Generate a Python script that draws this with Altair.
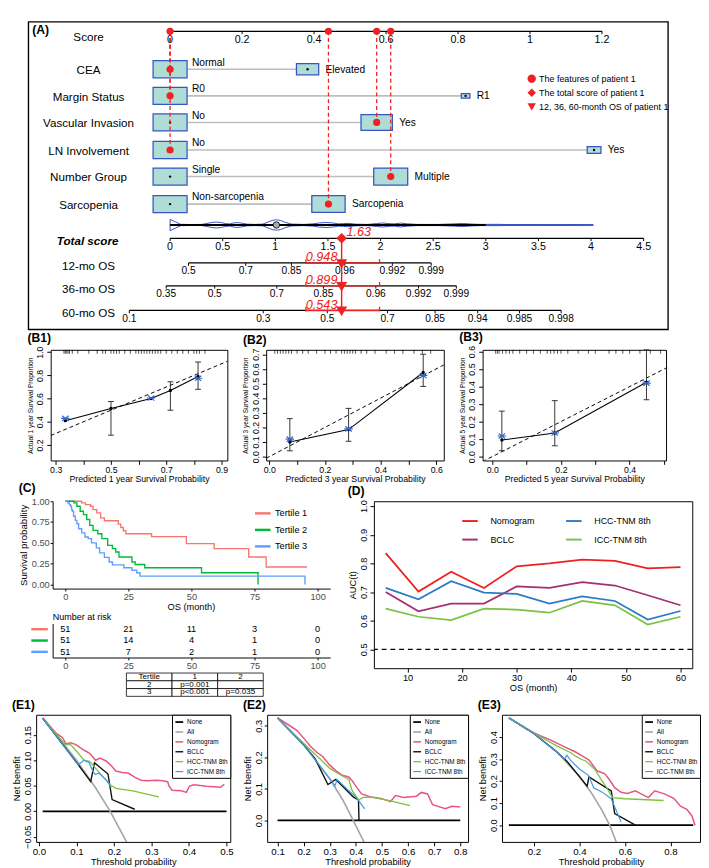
import json
import altair as alt
import pandas as pd

FONT = "Liberation Sans"
RED = "#EE2222"
BOX_FILL = "#AFDDD6"
BOX_EDGE = "#3556C6"
DENS_BLUE = "#3450C4"

# ======================= (A) nomogram data =======================
SCORE_TICKS = [0, 0.2, 0.4, 0.6, 0.8, 1, 1.2]
TOTAL_TICKS = [0, 0.5, 1, 1.5, 2, 2.5, 3, 3.5, 4, 4.5]
TOTAL_AXIS_RATIO = 0.2924  # one total point drawn relative to one score point

FEATURES = ["CEA", "Margin Status", "Vascular Invasion", "LN Involvement", "Number Group", "Sarcopenia"]
LEVEL_NAMES = [["Normal", "Elevated"], ["R0", "R1"], ["No", "Yes"], ["No", "Yes"],
               ["Single", "Multiple"], ["Non-sarcopenia", "Sarcopenia"]]
LEVEL_POINTS = [[0, 0.382], [0, 0.821], [0, 0.574], [0, 1.178], [0, 0.613], [0, 0.440]]
LEVEL_FREQ = [[0.70, 0.30], [0.94, 0.06], [0.54, 0.46], [0.86, 0.14], [0.50, 0.50], [0.51, 0.49]]
PATIENT_LEVEL = [0, 0, 1, 0, 1, 1]
PATIENT_TOTAL = 1.63
PATIENT_TOTAL_RANGE = [1.29, 1.99]

OS_NAMES = ["12-mo OS", "36-mo OS", "60-mo OS"]
OS_TICK_LABELS = [["0.5", "0.7", "0.85", "0.96", "0.992", "0.999"],
                  ["0.35", "0.5", "0.7", "0.85", "0.96", "0.992", "0.999"],
                  ["0.1", "0.3", "0.5", "0.7", "0.85", "0.94", "0.985", "0.998"]]
OS_TICK_TOTALS = [[0.175, 0.719, 1.153, 1.660, 2.112, 2.481],
                  [-0.037, 0.424, 1.014, 1.457, 1.955, 2.361, 2.720],
                  [-0.387, 0.885, 1.494, 2.066, 2.518, 2.923, 3.320, 3.716]]
OS_PATIENT = ["0.948", "0.899", "0.543"]

DENS_TOTAL = [0.00, 0.05, 0.10, 0.20, 0.30, 0.35, 0.40, 0.44, 0.48, 0.53, 0.57, 0.60, 0.64, 0.68, 0.73,
              0.80, 0.88, 0.93, 0.97, 1.01, 1.05, 1.09, 1.15, 1.27, 1.36, 1.42, 1.48, 1.54, 1.60, 1.65,
              1.70, 1.76, 1.88, 1.96, 2.02, 2.08, 2.13, 2.19, 2.25, 2.35, 2.55, 2.70, 2.78, 2.86, 2.95,
              3.10, 3.20, 3.50, 3.80, 4.02]
DENS_HALF = [6.0, 3.3, 0.7, 0.5, 0.6, 1.6, 2.7, 3.1, 2.7, 1.4, 1.1, 2.1, 2.5, 2.0, 0.9,
             0.6, 0.9, 3.0, 4.8, 5.5, 4.8, 3.0, 1.0, 0.6, 1.2, 2.2, 2.6, 2.2, 1.2, 1.5,
             1.7, 0.9, 0.6, 1.5, 2.1, 1.4, 1.2, 2.0, 1.3, 0.6, 0.6, 1.2, 1.6, 1.0, 0.6,
             0.7, 0.5, 0.4, 0.4, 0.3]
DENS_MEDIAN = 1.01
DENS_DARK_END = 3.0

LEGEND_A = ["The features of patient 1", "The total score of patient 1", "12, 36, 60-month OS of patient 1"]

# ======================= (B) calibration data =======================
B1_PRED = [0.335, 0.500, 0.645, 0.715, 0.815]
B1_OBS = [0.410, 0.515, 0.600, 0.670, 0.790]
B1_ERR_X = [0.500, 0.715, 0.815]
B1_ERR_LO = [0.285, 0.500, 0.680]
B1_ERR_HI = [0.575, 0.745, 0.915]
B1_BC_X = [0.335, 0.645, 0.815]
B1_BC_Y = [0.430, 0.605, 0.775]
B1_RUG = [0.33, 0.335, 0.34, 0.345, 0.35, 0.36, 0.38, 0.42, 0.45, 0.47, 0.48, 0.50, 0.51, 0.52, 0.53,
          0.55, 0.57, 0.59, 0.60, 0.61, 0.62, 0.63, 0.64, 0.65, 0.66, 0.67, 0.68, 0.70, 0.72, 0.74,
          0.76, 0.78, 0.80, 0.81, 0.82, 0.84]

B2_PRED = [0.074, 0.285, 0.553]
B2_OBS = [0.100, 0.185, 0.575]
B2_ERR_LO = [0.040, 0.105, 0.480]
B2_ERR_HI = [0.260, 0.330, 0.700]
B2_BC_Y = [0.120, 0.190, 0.555]
B2_RUG = [0.02, 0.03, 0.04, 0.05, 0.06, 0.07, 0.08, 0.10, 0.12, 0.14, 0.17, 0.20, 0.22, 0.24, 0.26,
          0.27, 0.28, 0.29, 0.30, 0.31, 0.33, 0.35, 0.38, 0.42, 0.45, 0.48, 0.52, 0.55, 0.58]

B3_PRED = [0.028, 0.182, 0.449]
B3_OBS = [0.095, 0.135, 0.425]
B3_ERR_LO = [0.034, 0.062, 0.325]
B3_ERR_HI = [0.260, 0.320, 0.610]
B3_BC_Y = [0.118, 0.135, 0.420]
B3_RUG = [0.01, 0.015, 0.02, 0.03, 0.04, 0.05, 0.06, 0.08, 0.10, 0.12, 0.14, 0.16, 0.17, 0.18, 0.19,
          0.20, 0.22, 0.25, 0.28, 0.30, 0.34, 0.36, 0.38, 0.40, 0.43, 0.46, 0.49]

# ======================= (C) Kaplan-Meier data =======================
TERTILES = ["Tertile 1", "Tertile 2", "Tertile 3"]
TERT_COLORS = ["#F8766D", "#00BA38", "#619CFF"]
KM_TIME_T1 = [0, 6.5, 8, 10, 11, 12.5, 14, 15.5, 21, 22, 23, 24, 34.2, 48, 59, 72.7, 79.6, 95.8]
KM_SURV_T1 = [1, 0.98, 0.96, 0.94, 0.90, 0.86, 0.80, 0.765, 0.725, 0.685, 0.645, 0.61, 0.575, 0.49, 0.43,
              0.33, 0.21, 0.21]
KM_TIME_T2 = [0, 3.4, 4.6, 5.9, 7.2, 8.5, 9.7, 11.0, 12.9, 14.5, 16.8, 18.7, 20.0, 21.3, 26.4, 27.7, 31.5,
              54, 76.4]
KM_SURV_T2 = [1, 0.98, 0.94, 0.88, 0.84, 0.78, 0.71, 0.65, 0.61, 0.55, 0.47, 0.43, 0.39, 0.33, 0.27, 0.24,
              0.20, 0.14, 0.0]
KM_TIME_T3 = [0, 1.0, 1.6, 2.1, 2.5, 2.8, 3.3, 4.0, 4.6, 5.3, 6.5, 7.8, 9.1, 10.4, 12.3, 13.6, 15.5, 17.4,
              18.7, 23.2, 26.4, 28.3, 29.6, 95]
KM_SURV_T3 = [1, 0.98, 0.96, 0.94, 0.90, 0.88, 0.82, 0.77, 0.73, 0.67, 0.62, 0.57, 0.55, 0.50, 0.44, 0.38,
              0.325, 0.27, 0.235, 0.20, 0.17, 0.14, 0.10, 0.0]
RISK_TIMES = [0, 25, 50, 75, 100]
RISK_T1 = [51, 21, 11, 3, 0]
RISK_T2 = [51, 14, 4, 1, 0]
RISK_T3 = [51, 7, 2, 1, 0]
PTABLE = [["Tertile", "1", "2"], ["2", "p=0.001", ""], ["3", "p<0.001", "p=0.035"]]

# ======================= (D) time-dependent AUC =======================
D_MODELS = ["Nomogram", "BCLC", "HCC-TNM 8th", "ICC-TNM 8th"]
D_COLORS = ["#F02020", "#A2316E", "#2B7BC4", "#7DC142"]
D_TIME = [6, 12, 18, 24, 30, 36, 42, 48, 54, 60]
D_NOMO = [0.836, 0.702, 0.771, 0.714, 0.790, 0.800, 0.813, 0.809, 0.783, 0.787]
D_BCLC = [0.700, 0.633, 0.660, 0.660, 0.720, 0.715, 0.735, 0.723, 0.689, 0.654]
D_HCC = [0.715, 0.675, 0.738, 0.698, 0.694, 0.660, 0.685, 0.669, 0.604, 0.634]
D_ICC = [0.642, 0.614, 0.602, 0.642, 0.639, 0.628, 0.669, 0.654, 0.587, 0.614]

# ======================= (E) decision curves =======================
E_MODELS = ["None", "All", "Nomogram", "BCLC", "HCC-TNM 8th", "ICC-TNM 8th"]
E_COLORS = ["#000000", "#A6A6A6", "#E8567F", "#111111", "#7DC242", "#3E9BE0"]

E1 = {
    "None": ([0.01, 0.50], [0, 0]),
    "All": ([0.01, 0.05, 0.10, 0.15, 0.19, 0.235], [0.182, 0.147, 0.100, 0.047, 0.0, -0.062]),
    "Nomogram": ([0.01, 0.047, 0.055, 0.063, 0.072, 0.084, 0.097, 0.109, 0.122, 0.134, 0.143, 0.151, 0.163,
                  0.18, 0.193, 0.205, 0.222, 0.238, 0.255, 0.272, 0.288, 0.313, 0.33, 0.343, 0.347, 0.355,
                  0.38, 0.393, 0.401, 0.413, 0.447, 0.484, 0.494],
                 [0.183, 0.152, 0.148, 0.144, 0.132, 0.134, 0.131, 0.125, 0.119, 0.114, 0.107, 0.100, 0.104,
                  0.098, 0.089, 0.079, 0.076, 0.075, 0.067, 0.061, 0.060, 0.061, 0.060, 0.058, 0.049, 0.041,
                  0.040, 0.037, 0.049, 0.052, 0.049, 0.047, 0.053]),
    "BCLC": ([0.01, 0.105, 0.138, 0.148, 0.184, 0.195, 0.255], [0.182, 0.091, 0.058, 0.095, 0.073, 0.023, 0.004]),
    "HCC-TNM 8th": ([0.01, 0.07, 0.085, 0.10, 0.12, 0.135, 0.15, 0.17, 0.19, 0.205, 0.25, 0.32],
                    [0.182, 0.131, 0.130, 0.118, 0.100, 0.098, 0.085, 0.068, 0.052, 0.045, 0.040, 0.028]),
    "ICC-TNM 8th": ([0.01, 0.105, 0.12, 0.134, 0.143, 0.15, 0.16, 0.18, 0.193],
                    [0.182, 0.091, 0.100, 0.095, 0.079, 0.072, 0.075, 0.061, 0.046]),
}
E2 = {
    "None": ([0.1, 0.8], [0, 0]),
    "All": ([0.1, 0.2, 0.3, 0.35, 0.39, 0.432], [0.325, 0.240, 0.132, 0.065, 0.0, -0.070]),
    "Nomogram": ([0.1, 0.138, 0.175, 0.2, 0.225, 0.249, 0.274, 0.298, 0.323, 0.348, 0.373, 0.385, 0.404,
                  0.422, 0.459, 0.496, 0.533, 0.552, 0.583, 0.632, 0.651, 0.675, 0.694, 0.743, 0.768, 0.8],
                 [0.325, 0.305, 0.285, 0.261, 0.236, 0.217, 0.202, 0.177, 0.158, 0.143, 0.138, 0.127, 0.104,
                  0.084, 0.074, 0.070, 0.060, 0.079, 0.073, 0.077, 0.089, 0.084, 0.050, 0.037, 0.045, 0.043]),
    "BCLC": ([0.1, 0.2, 0.243, 0.293, 0.323, 0.391, 0.41, 0.412], [0.325, 0.240, 0.197, 0.114, 0.130, 0.074, 0.065, 0.0]),
    "HCC-TNM 8th": ([0.1, 0.2, 0.25, 0.3, 0.34, 0.373, 0.385, 0.41, 0.429, 0.459, 0.533, 0.607],
                    [0.325, 0.245, 0.205, 0.165, 0.145, 0.130, 0.096, 0.065, 0.073, 0.074, 0.062, 0.047]),
    "ICC-TNM 8th": ([0.1, 0.2, 0.3, 0.32, 0.328, 0.37, 0.40, 0.434], [0.325, 0.240, 0.132, 0.110, 0.130, 0.097, 0.075, 0.037]),
}
E3 = {
    "None": ([0.09, 0.9], [0, 0]),
    "All": ([0.09, 0.2, 0.3, 0.4, 0.45, 0.5, 0.533, 0.562], [0.487, 0.416, 0.333, 0.222, 0.151, 0.066, 0.0, -0.076]),
    "Nomogram": ([0.09, 0.195, 0.23, 0.272, 0.328, 0.385, 0.442, 0.477, 0.512, 0.533, 0.555, 0.583, 0.611,
                  0.646, 0.667, 0.703, 0.731, 0.773, 0.816, 0.844, 0.872, 0.894, 0.908],
                 [0.487, 0.422, 0.405, 0.387, 0.359, 0.331, 0.296, 0.247, 0.233, 0.205, 0.170, 0.149, 0.144,
                  0.156, 0.144, 0.125, 0.156, 0.142, 0.121, 0.086, 0.072, 0.043, 0.0]),
    "BCLC": ([0.09, 0.2, 0.3, 0.343, 0.434, 0.442, 0.54, 0.555, 0.646], [0.487, 0.416, 0.333, 0.293, 0.177, 0.219, 0.156, 0.053, 0.0]),
    "HCC-TNM 8th": ([0.09, 0.2, 0.3, 0.36, 0.385, 0.41, 0.43, 0.47, 0.5, 0.52, 0.545, 0.6, 0.77],
                    [0.487, 0.418, 0.360, 0.330, 0.312, 0.298, 0.290, 0.250, 0.200, 0.170, 0.125, 0.120, 0.112]),
    "ICC-TNM 8th": ([0.09, 0.2, 0.3, 0.335, 0.345, 0.36, 0.40, 0.44, 0.463, 0.50, 0.54, 0.583],
                    [0.487, 0.416, 0.333, 0.300, 0.318, 0.295, 0.255, 0.226, 0.170, 0.150, 0.120, 0.015]),
}

# ======================= layout =======================
A_W, A_H = 659, 317
A_XDOM = [-0.3937, 1.3834]
A_YDOM = [1, 325]
ROW_SCORE = 11
ROW_FEAT = [51, 79, 107, 136, 164, 193]
ROW_DENS = 215
ROW_TOTAL = 229
ROW_OS = [255, 279, 305]
BOX_HALF_W = 0.0472
BOX_HALF_H = 9
TRANSP = alt.ViewBackground(stroke="transparent")
IND = dict(color="independent", shape="independent", strokeWidth="independent")


def H(*charts, spacing=0):
    return alt.hconcat(*charts, spacing=spacing).resolve_scale(**IND).resolve_legend(**IND)


def V(*charts, spacing=0):
    return alt.vconcat(*charts, spacing=spacing).resolve_scale(**IND).resolve_legend(**IND)


def spacer(w, h):
    return alt.Chart(pd.DataFrame({"v": [0]})).mark_rect(opacity=0).encode(
        x=alt.value(0), x2=alt.value(w), y=alt.value(0), y2=alt.value(h)
    ).properties(width=w, height=h, view=TRANSP)


def g(v):
    return "%g" % v


# ----------------------- (A) -----------------------
R = TOTAL_AXIS_RATIO
xsA = alt.Scale(domain=A_XDOM, nice=False, zero=False)
ysA = alt.Scale(domain=A_YDOM, reverse=True, nice=False, zero=False)


def XA(f="x"):
    return alt.X(f + ":Q", scale=xsA, axis=None)


def YA(f="y"):
    return alt.Y(f + ":Q", scale=ysA, axis=None)


ax_lines, ax_ticks, ax_labels = [], [], []


def add_axis(pos, labs, row, size):
    ax_lines.append(dict(x=min(pos), x2=max(pos), y=row))
    for p, l in zip(pos, labs):
        ax_ticks.append(dict(x=p, y=row, y2=row + 3))
        ax_labels.append(dict(x=p, y=row + 9, t=l, s=size))


add_axis(SCORE_TICKS, [g(v) for v in SCORE_TICKS], ROW_SCORE, 11)
add_axis([t * R for t in TOTAL_TICKS], [g(v) for v in TOTAL_TICKS], ROW_TOTAL, 11)
for i in range(3):
    add_axis([t * R for t in OS_TICK_TOTALS[i]], OS_TICK_LABELS[i], ROW_OS[i], 10.5)

conns, boxes, lvl0, lvl1 = [], [], [], []
for k in range(len(FEATURES)):
    row = ROW_FEAT[k]
    fmax = max(LEVEL_FREQ[k])
    conns.append(dict(x=LEVEL_POINTS[k][0], x2=LEVEL_POINTS[k][1], y=row))
    for j in range(2):
        rel = (LEVEL_FREQ[k][j] / fmax) ** 0.5
        p = LEVEL_POINTS[k][j]
        hw, hh = BOX_HALF_W * rel, BOX_HALF_H * rel
        boxes.append(dict(x=p - hw, x2=p + hw, y=row - hh, y2=row + hh, cx=p, cy=row))
        if j == 0:
            lvl0.append(dict(x=p + hw + 0.0135, y=row - 7, t=LEVEL_NAMES[k][j]))
        else:
            lvl1.append(dict(x=p + hw + 0.019, y=row + 0.5, t=LEVEL_NAMES[k][j]))

pat_pts = [LEVEL_POINTS[k][PATIENT_LEVEL[k]] for k in range(len(FEATURES))]
dash = [dict(x=p, y=ROW_SCORE, y2=ROW_FEAT[k]) for k, p in enumerate(pat_pts)]
dots = [dict(x=p, y=ROW_FEAT[k], kind=LEGEND_A[0]) for k, p in enumerate(pat_pts)]
dots += [dict(x=p, y=ROW_SCORE, kind=LEGEND_A[0]) for p in sorted(set(pat_pts))]
diam = [dict(x=PATIENT_TOTAL * R, y=ROW_TOTAL, kind=LEGEND_A[1])]
tris = [dict(x=PATIENT_TOTAL * R, y=r + 1, kind=LEGEND_A[2]) for r in ROW_OS]
ci = [dict(x=PATIENT_TOTAL_RANGE[0] * R, x2=PATIENT_TOTAL_RANGE[1] * R, y=r) for r in ROW_OS]
ci_ticks = [dict(x=v * R, y=r - 4, y2=r + 1) for r in ROW_OS for v in PATIENT_TOTAL_RANGE]
os_txt = [dict(x=PATIENT_TOTAL_RANGE[0] * R, y=r - 6, t=t) for r, t in zip(ROW_OS, OS_PATIENT)]

path = []
n = len(DENS_TOTAL)
for i, (t, h) in enumerate(zip(DENS_TOTAL, DENS_HALF)):
    path.append(dict(x=t * R, y=ROW_DENS - h, o=i))
for i, (t, h) in enumerate(zip(DENS_TOTAL[::-1], DENS_HALF[::-1])):
    path.append(dict(x=t * R, y=ROW_DENS + h, o=n + i))
path.append(dict(x=DENS_TOTAL[0] * R, y=ROW_DENS - DENS_HALF[0], o=2 * n))

var_labels = [dict(y=ROW_SCORE + 6, t="Score")] + \
    [dict(y=r + 1, t=f) for r, f in zip(ROW_FEAT, FEATURES)] + \
    [dict(y=r + 3, t=nm) for r, nm in zip(ROW_OS, OS_NAMES)]

SHAPE_A = alt.Shape("kind:N", scale=alt.Scale(domain=LEGEND_A, range=["circle", "diamond", "triangle-down"]),
                    legend=alt.Legend(title=None, orient="none", legendX=514, legendY=54, symbolSize=75,
                                      symbolFillColor=RED, symbolStrokeColor=RED, symbolStrokeWidth=0,
                                      labelFontSize=9.2, labelOffset=3, rowPadding=4.5, labelColor="black"))


def C(rows):
    return alt.Chart(pd.DataFrame(rows))


A = alt.layer(
    C(ax_lines).mark_rule(color="black", strokeWidth=1.3).encode(x=XA(), x2="x2:Q", y=YA()),
    C(ax_ticks).mark_rule(color="black", strokeWidth=1).encode(x=XA(), y=YA(), y2="y2:Q"),
    C(ax_labels).mark_text(baseline="middle", color="black").encode(
        x=XA(), y=YA(), text="t:N", size=alt.Size("s:Q", scale=None)),
    C(conns).mark_rule(color="#BEBEBE", strokeWidth=1.6).encode(x=XA(), x2="x2:Q", y=YA()),
    C(boxes).mark_rect(fill=BOX_FILL, stroke=BOX_EDGE, strokeWidth=1.3).encode(
        x=XA(), x2="x2:Q", y=YA(), y2="y2:Q"),
    C(boxes).mark_point(filled=True, color="black", size=6, opacity=1).encode(x=XA("cx"), y=YA("cy")),
    C(lvl0).mark_text(align="left", baseline="middle", fontSize=10.5, color="black").encode(
        x=XA(), y=YA(), text="t:N"),
    C(lvl1).mark_text(align="left", baseline="middle", fontSize=10.5, color="black").encode(
        x=XA(), y=YA(), text="t:N"),
    C(var_labels).mark_text(align="center", baseline="middle", fontSize=12, color="black").encode(
        x=alt.value(62), y=YA(), text="t:N"),
    C([dict(y=ROW_TOTAL + 3, t="Total score")]).mark_text(
        align="center", baseline="middle", fontSize=12, fontWeight="bold", fontStyle="italic", color="black").encode(
        x=alt.value(61), y=YA(), text="t:N"),
    C(path).mark_line(color=DENS_BLUE, strokeWidth=1).encode(x=XA(), y=YA(), order="o:Q"),
    C([dict(x=DENS_TOTAL[0] * R, x2=DENS_DARK_END * R, y=ROW_DENS)]).mark_rule(
        color="black", strokeWidth=2).encode(x=XA(), x2="x2:Q", y=YA()),
    C([dict(x=DENS_DARK_END * R, x2=DENS_TOTAL[-1] * R, y=ROW_DENS)]).mark_rule(
        color=DENS_BLUE, strokeWidth=1.4).encode(x=XA(), x2="x2:Q", y=YA()),
    C([dict(x=DENS_MEDIAN * R, y=ROW_DENS)]).mark_point(
        filled=True, fill="#AAAAAA", stroke="black", strokeWidth=0.8, size=45, opacity=1).encode(x=XA(), y=YA()),
    C(dash).mark_rule(color=RED, strokeWidth=1.3, strokeDash=[4, 3]).encode(x=XA(), y=YA(), y2="y2:Q"),
    C([dict(x=PATIENT_TOTAL * R, y=ROW_TOTAL, y2=ROW_OS[-1] + 2)]).mark_rule(
        color=RED, strokeWidth=1.5).encode(x=XA(), y=YA(), y2="y2:Q"),
    C(ci).mark_rule(color=RED, strokeWidth=1.5).encode(x=XA(), x2="x2:Q", y=YA()),
    C(ci_ticks).mark_rule(color=RED, strokeWidth=1.3).encode(x=XA(), y=YA(), y2="y2:Q"),
    C(dots).mark_point(filled=True, color=RED, size=55, opacity=1).encode(x=XA(), y=YA(), shape=SHAPE_A),
    C(diam).mark_point(filled=True, color=RED, size=120, opacity=1).encode(x=XA(), y=YA(), shape=SHAPE_A),
    C(tris).mark_point(filled=True, color=RED, size=130, opacity=1).encode(x=XA(), y=YA(), shape=SHAPE_A),
    C([dict(x=PATIENT_TOTAL * R, y=ROW_TOTAL - 6, t=g(PATIENT_TOTAL))]).mark_text(
        align="left", baseline="middle", dx=5, fontSize=13, fontStyle="italic", color=RED).encode(
        x=XA(), y=YA(), text="t:N"),
    C(os_txt).mark_text(align="left", baseline="middle", fontSize=13, fontStyle="italic", color=RED).encode(
        x=XA(), y=YA(), text="t:N"),
    C([dict(t="(A)")]).mark_text(align="left", baseline="middle", fontSize=12.5, fontWeight="bold",
                                 color="black").encode(x=alt.value(4), y=alt.value(9), text="t:N"),
).properties(width=A_W, height=A_H, view=alt.ViewBackground(stroke="black", strokeWidth=1.4))

# ----------------------- (B) -----------------------
XSHAPE = "M-1,-0.8L1,0.8M-1,0.8L1,-0.8M-1.3,0L1.3,0"


def calib_chart(tag, year, xdom, ydom, xticks, xlabs, yticks, w, h, pred, obs, ebx, elo, ehi, bcx, bcy, rug):
    xs = alt.Scale(domain=xdom, nice=False, zero=False)
    ys = alt.Scale(domain=ydom, nice=False, zero=False)
    expr = "indexof(%s, round(datum.value*10)/10) >= 0 ? format(datum.value, '.1f') : ''" % json.dumps(xlabs)
    xax = alt.Axis(values=xticks, labelExpr=expr, title="Predicted  %s year Survival Probability" % year,
                   domain=False, tickSize=4, labelFontSize=9, titleFontSize=9, labelPadding=1, titlePadding=1)
    yax = alt.Axis(values=yticks, format=".1f", title="Actual %s year Survival Proportion" % year,
                   domain=False, tickSize=4, labelAngle=-90, labelAlign="center", labelBaseline="bottom",
                   labelFontSize=9, titleFontSize=6.8, labelPadding=2, titlePadding=3)
    X = alt.X("x:Q", scale=xs, axis=xax)
    Y = alt.Y("y:Q", scale=ys, axis=yax)
    obs_df = pd.DataFrame({"x": pred, "y": obs})
    layers = [
        alt.Chart(pd.DataFrame({"x": rug})).mark_rule(color="black", strokeWidth=0.7).encode(
            x=X, y=alt.value(0), y2=alt.value(4)),
        alt.Chart(pd.DataFrame({"x": xdom, "y": xdom})).mark_line(
            color="black", strokeDash=[4, 3], strokeWidth=1, clip=True).encode(x=X, y=Y),
        alt.Chart(obs_df).mark_line(color="black", strokeWidth=1.1).encode(x=X, y=Y),
        alt.Chart(pd.DataFrame({"x": ebx, "y": elo, "y2": ehi})).mark_rule(color="#333333", strokeWidth=1).encode(
            x=X, y=Y, y2="y2:Q"),
        alt.Chart(pd.DataFrame({"x": ebx + ebx, "y": elo + ehi})).mark_point(
            shape="stroke", size=36, color="#333333", strokeWidth=1, opacity=1).encode(x=X, y=Y),
        alt.Chart(obs_df).mark_point(filled=True, color="black", size=12, opacity=1).encode(x=X, y=Y),
        alt.Chart(pd.DataFrame({"x": bcx, "y": bcy})).mark_point(
            shape=XSHAPE, size=45, color="#3366CC", strokeWidth=1.2, opacity=1).encode(x=X, y=Y),
    ]
    return alt.layer(*layers).properties(
        width=w, height=h,
        title=alt.TitleParams("(%s)" % tag, anchor="start", fontSize=12.5, fontWeight="bold", offset=2))


B1c = calib_chart("B1", 1, [0.282, 0.921], [0.067, 1.02], [0.3, 0.4, 0.5, 0.6, 0.7, 0.8, 0.9],
                  [0.3, 0.5, 0.7, 0.9], [0.2, 0.4, 0.6, 0.8, 1.0], 182, 114,
                  B1_PRED, B1_OBS, B1_ERR_X, B1_ERR_LO, B1_ERR_HI, B1_BC_X, B1_BC_Y, B1_RUG)
B2c = calib_chart("B2", 3, [-0.011, 0.627], [-0.026, 0.73], [0.0, 0.1, 0.2, 0.3, 0.4, 0.5, 0.6],
                  [0.0, 0.2, 0.4, 0.6], [0.0, 0.1, 0.2, 0.3, 0.4, 0.5, 0.6, 0.7], 183, 114,
                  B2_PRED, B2_OBS, B2_PRED, B2_ERR_LO, B2_ERR_HI, B2_PRED, B2_BC_Y, B2_RUG)
B3c = calib_chart("B3", 5, [-0.028, 0.506], [-0.022, 0.61], [0.0, 0.1, 0.2, 0.3, 0.4, 0.5],
                  [0.0, 0.2, 0.4], [0.0, 0.1, 0.2, 0.3, 0.4, 0.5, 0.6], 189, 114,
                  B3_PRED, B3_OBS, B3_PRED, B3_ERR_LO, B3_ERR_HI, B3_PRED, B3_BC_Y, B3_RUG)

# ----------------------- (C) -----------------------
km_rows = []
for name, ts, ss in zip(TERTILES, [KM_TIME_T1, KM_TIME_T2, KM_TIME_T3], [KM_SURV_T1, KM_SURV_T2, KM_SURV_T3]):
    for i, (t, s) in enumerate(zip(ts, ss)):
        km_rows.append(dict(g=name, t=t, s=s, i=i))
xsC = alt.Scale(domain=[-5, 105], nice=False, zero=False)
ysC = alt.Scale(domain=[-0.05, 1.0], nice=False, zero=False)
tcol = alt.Scale(domain=TERTILES, range=TERT_COLORS)
C_W = 286

Cc = alt.Chart(pd.DataFrame(km_rows)).mark_line(interpolate="step-after", strokeWidth=1.4).encode(
    x=alt.X("t:Q", scale=xsC, axis=alt.Axis(values=RISK_TIMES, title=None, tickSize=2.5, labelFontSize=9.5,
                                           labelPadding=1, labelColor="#4D4D4D")),
    y=alt.Y("s:Q", scale=ysC, axis=alt.Axis(values=[0, 0.25, 0.5, 0.75, 1.0], format=".2f",
                                           title="Survival probability", tickSize=2.5, labelFontSize=9.5,
                                           titleFontSize=10, labelPadding=1, titlePadding=3,
                                           labelColor="#4D4D4D")),
    color=alt.Color("g:N", scale=tcol, legend=alt.Legend(
        title=None, orient="none", legendX=207, legendY=3, symbolType="stroke", symbolSize=256,
        symbolStrokeWidth=2.5, labelFontSize=9.5, labelOffset=3, rowPadding=2, labelColor="black")),
    order="i:Q",
).properties(width=C_W, height=90, view=TRANSP,
             title=alt.TitleParams("(C)", anchor="start", fontSize=12.5, fontWeight="bold", offset=2))

risk_rows = []
for name, vals in zip(TERTILES, [RISK_T1, RISK_T2, RISK_T3]):
    for t, v in zip(RISK_TIMES, vals):
        risk_rows.append(dict(g=name, t=t, n=v))
ysR = alt.Scale(type="point", domain=TERTILES, padding=0.5)
risk = alt.layer(
    alt.Chart(pd.DataFrame({"g": TERTILES})).mark_rule(strokeWidth=2.5).encode(
        x=alt.value(-22), x2=alt.value(-5), y=alt.Y("g:N", scale=ysR),
        color=alt.Color("g:N", scale=tcol, legend=None)),
    alt.Chart(pd.DataFrame(risk_rows)).mark_text(fontSize=9.5, color="black").encode(
        x=alt.X("t:Q", scale=xsC, axis=alt.Axis(values=RISK_TIMES, title=None, tickSize=2.5, labelFontSize=9.5,
                                               labelPadding=1, labelColor="#4D4D4D")),
        y=alt.Y("g:N", scale=ysR, axis=alt.Axis(title=None, labels=False, ticks=False, domain=True)),
        text="n:Q"),
    alt.Chart(pd.DataFrame({"a": [0]})).mark_text(align="left", baseline="middle", fontSize=9.3,
                                                  color="black").encode(
        x=alt.value(0), y=alt.value(-7), text=alt.value("Number at risk")),
).properties(width=C_W, height=35, view=TRANSP,
             title=alt.TitleParams("OS (month)", anchor="middle", frame="group", fontSize=9.5,
                                   fontWeight="normal", offset=1))

pt_rows = []
for r, row in enumerate(PTABLE):
    for c, txt in enumerate(row):
        pt_rows.append(dict(r="r%d" % r, c="c%d" % c, t=txt))
pxs = alt.Scale(domain=["c0", "c1", "c2"], paddingInner=0, paddingOuter=0)
pys = alt.Scale(domain=["r0", "r1", "r2"], paddingInner=0, paddingOuter=0)
ptab = alt.layer(
    alt.Chart(pd.DataFrame(pt_rows)).mark_rect(fill="white", stroke="black", strokeWidth=0.8).encode(
        x=alt.X("c:N", scale=pxs, axis=None), y=alt.Y("r:N", scale=pys, axis=None)),
    alt.Chart(pd.DataFrame(pt_rows)).mark_text(fontSize=8.3, color="black").encode(
        x=alt.X("c:N", scale=pxs, axis=None), y=alt.Y("r:N", scale=pys, axis=None), text="t:N"),
).properties(width=141, height=24, view=TRANSP)

Ccol = V(V(Cc, risk, spacing=0), H(spacer(74, 24), ptab, spacing=0), spacing=0)

# ----------------------- (D) -----------------------
d_rows = []
for name, vals in zip(D_MODELS, [D_NOMO, D_BCLC, D_HCC, D_ICC]):
    for t, v in zip(D_TIME, vals):
        d_rows.append(dict(m=name, t=t, v=v))
xsD = alt.Scale(domain=[3.84, 62.16], nice=False, zero=False)
ysD = alt.Scale(domain=[0.4345, 1.017], nice=False, zero=False)
D_X = alt.X("t:Q", scale=xsD, axis=alt.Axis(values=[10, 20, 30, 40, 50, 60], title="OS (month)", domain=False,
                                          tickSize=4, labelFontSize=9.5, titleFontSize=9.5, labelPadding=1,
                                          titlePadding=1))
D_Y = alt.Y("v:Q", scale=ysD, axis=alt.Axis(values=[0.5, 0.6, 0.7, 0.8, 0.9, 1.0], format=".1f", title="AUC(t)",
                                          domain=False, tickSize=4, labelAngle=-90, labelAlign="center",
                                          labelBaseline="bottom", labelFontSize=9.5, titleFontSize=9.5,
                                          labelPadding=2, titlePadding=1))
Dc = alt.layer(
    alt.Chart(pd.DataFrame(d_rows)).mark_line(strokeWidth=1.8).encode(
        x=D_X, y=D_Y,
        color=alt.Color("m:N", scale=alt.Scale(domain=D_MODELS, range=D_COLORS), legend=alt.Legend(
            title=None, orient="none", legendX=90, legendY=11, columns=2, symbolType="stroke", symbolSize=256,
            symbolStrokeWidth=2, labelFontSize=9.2, labelOffset=12, columnPadding=28, rowPadding=4.5,
            labelColor="black"))),
    alt.Chart(pd.DataFrame({"v": [0.5]})).mark_rule(color="black", strokeWidth=1.3, strokeDash=[5, 4]).encode(y=D_Y),
).properties(width=328, height=172,
             title=alt.TitleParams("(D)", anchor="start", fontSize=12.5, fontWeight="bold", offset=2))


# ----------------------- (E) -----------------------
def dca_chart(tag, xdom, ydom, xticks, yticks, yfmt, w, h, curves):
    rows = []
    for name in E_MODELS:
        xs, ys = curves[name]
        for i, (a, b) in enumerate(zip(xs, ys)):
            rows.append(dict(m=name, x=a, y=b, i=i))
    X = alt.X("x:Q", scale=alt.Scale(domain=xdom, nice=False, zero=False),
              axis=alt.Axis(values=xticks, format=".1f", title="Threshold probability", domain=False, tickSize=4,
                            labelFontSize=10, titleFontSize=9.5, labelPadding=1, titlePadding=0))
    Y = alt.Y("y:Q", scale=alt.Scale(domain=ydom, nice=False, zero=False),
              axis=alt.Axis(values=yticks, format=yfmt, title="Net benefit", domain=False, tickSize=3,
                            labelAngle=-90, labelAlign="center", labelBaseline="bottom", labelFontSize=9.5,
                            titleFontSize=9.5, labelPadding=1, titlePadding=1))
    return alt.Chart(pd.DataFrame(rows)).mark_line(clip=True).encode(
        x=X, y=Y,
        color=alt.Color("m:N", scale=alt.Scale(domain=E_MODELS, range=E_COLORS), legend=alt.Legend(
            title=None, orient="top-right", offset=0, padding=2.5, strokeColor="black", fillColor="white",
            symbolType="stroke", symbolSize=64, symbolStrokeWidth=1.5, labelFontSize=6.6, labelOffset=3,
            rowPadding=1.2, labelColor="black")),
        strokeWidth=alt.StrokeWidth("m:N", scale=alt.Scale(domain=E_MODELS, range=[1.8, 1.2, 1.2, 1.2, 1.2, 1.2]),
                                    legend=None),
        order="i:Q",
    ).properties(width=w, height=h,
                 title=alt.TitleParams("(%s)" % tag, anchor="start", fontSize=12.5, fontWeight="bold", offset=3))


E1c = dca_chart("E1", [-0.0075, 0.51], [-0.06, 0.189], [0.0, 0.1, 0.2, 0.3, 0.4, 0.5],
                [-0.05, 0.0, 0.05, 0.10, 0.15], ".2f", 200, 131, E1)
E2c = dca_chart("E2", [0.06, 0.83], [-0.068, 0.335], [0.1, 0.2, 0.3, 0.4, 0.5, 0.6, 0.7, 0.8],
                [0.0, 0.1, 0.2, 0.3], ".1f", 207, 131, E2)
E3c = dca_chart("E3", [0.06, 0.93], [-0.076, 0.501], [0.2, 0.4, 0.6, 0.8],
                [0.0, 0.1, 0.2, 0.3, 0.4], ".1f", 204, 131, E3)

# ----------------------- assemble -----------------------
rowA = H(spacer(18, 320), A, spacing=0)
rowB = H(spacer(3, 10), B1c, B2c, B3c, spacing=14)
rowCD = H(spacer(8, 10), H(Ccol, Dc, spacing=16), spacing=0)
rowE = H(spacer(1, 10), H(E1c, E2c, E3c, spacing=8), spacing=0)

chart = V(V(rowA, rowB, rowCD, spacing=-3), rowE, spacing=1).properties(padding=0)
chart = chart.configure(font=FONT).configure_view(stroke="black", strokeWidth=1).configure_axis(
    grid=False, domainColor="black", tickColor="black", labelColor="black", titleColor="black",
    titleFontWeight="normal", labelFlush=False, labelOverlap=False)

chart.save("out.html", embed_options={"renderer": "svg", "actions": False})
